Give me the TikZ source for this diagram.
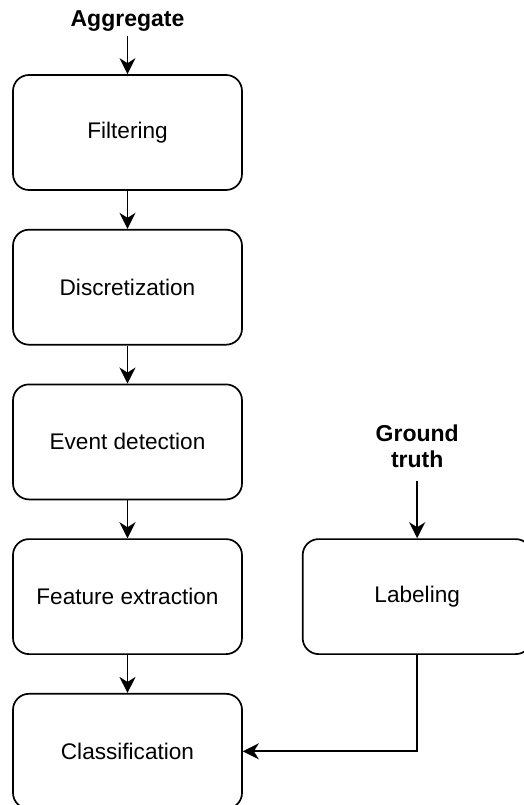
\documentclass[tikz,border=0pt]{standalone}
\usepackage{fontspec}
\setmainfont{Liberation Sans}
\usetikzlibrary{arrows.meta,positioning}

\begin{document}
\begin{tikzpicture}[
    x=1pt, y=1pt,
    node distance=38pt and 59pt,
    stage/.style={draw, line width=1.7pt, rounded corners=16pt, align=center, minimum width=229pt, minimum height=115pt, font=\fontsize{22.6}{26}\selectfont},
    input/.style={align=center, inner sep=6pt, text depth=5pt, font=\bfseries\fontsize{23}{26}\selectfont},
    arrow/.style={-{Stealth[length=16pt, width=16pt, inset=5pt]}, line width=1.7pt}
]
\useasboundingbox (0,0) rectangle (524,-805);
\node[stage] (filt) at (127.5,-132.5) {Filtering};
\node[stage, below=of filt] (disc) {Discretization};
\node[stage, below=of disc] (event) {Event detection};
\node[stage, below=of event] (feat) {Feature extraction};
\node[stage, below=of feat] (class) {Classification};
\node[stage, right=of feat] (label) {Labeling};
\node[input, text depth=3pt, above=of filt] (agg) {Aggregate};
\node[input, text depth=8pt, above=57pt of label] (truth) {Ground\\truth};
\draw[arrow] (agg) -- (filt);
\draw[arrow] (filt) -- (disc);
\draw[arrow] (disc) -- (event);
\draw[arrow] (event) -- (feat);
\draw[arrow] (feat) -- (class);
\draw[arrow] (truth) -- (label);
\draw[arrow] (label.south) |- (class.east);
\end{tikzpicture}
\end{document}
